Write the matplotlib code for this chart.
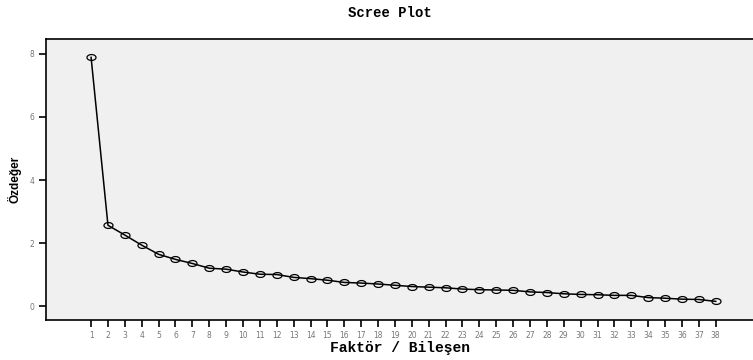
import matplotlib
matplotlib.use("Agg")
import matplotlib.pyplot as plt
from matplotlib.path import Path
from matplotlib.markers import MarkerStyle
import numpy as np

# veriler
faktorler = list(range(1, 39))
ozdegerler = [7.89, 2.57, 2.26, 1.94, 1.65, 1.49, 1.36, 1.21, 1.18, 1.09,
              1.02, 1.01, 0.92, 0.88, 0.83, 0.76, 0.74, 0.71, 0.67, 0.63,
              0.61, 0.59, 0.55, 0.53, 0.52, 0.51, 0.46, 0.44, 0.40, 0.38,
              0.37, 0.35, 0.35, 0.28, 0.26, 0.23, 0.22, 0.16]
y_ticks = [0, 2, 4, 6, 8]

# elips şeklinde marker
t = np.linspace(0, 2 * np.pi, 60)
elips = Path(np.column_stack([np.cos(t), 0.65 * np.sin(t)]))

fig = plt.figure(figsize=(7.53, 3.6), dpi=100)
ax = fig.add_axes([0.0611, 0.1111, 0.9389, 0.7797])
ax.set_facecolor("#f0f0f0")

ax.plot(faktorler, ozdegerler, color="black", lw=1.1,
        marker=MarkerStyle(elips), markersize=6.5,
        markerfacecolor="none", markeredgecolor="black", markeredgewidth=0.9)

ax.set_xlim(-1.67, 40.21)
ax.set_ylim(-0.43, 8.46)
ax.set_xticks(faktorler)
ax.set_xticklabels([str(f) for f in faktorler])
ax.set_yticks(y_ticks)

ax.spines["right"].set_visible(False)
for s in ["left", "bottom", "top"]:
    ax.spines[s].set_linewidth(1.2)

ax.tick_params(axis="both", direction="out", length=5, width=1.2,
               labelsize=5.5, colors="black")
ax.tick_params(axis="x", pad=3)
for lab in ax.get_xticklabels() + ax.get_yticklabels():
    lab.set_color("#777777")

fig.text(0.518, 0.963, "Scree Plot", ha="center", va="center",
         family="Liberation Mono", fontweight="bold", fontsize=10)
ax.set_xlabel("Faktör / Bileşen", family="Liberation Mono",
              fontweight="bold", fontsize=10.5, va="center")
ax.xaxis.set_label_coords(0.5, -0.1)
ax.set_ylabel("Özdeğer", family=["Liberation Sans Narrow", "Liberation Sans", "DejaVu Sans"],
              fontweight="bold", fontsize=8.5, va="center")
ax.yaxis.set_label_coords(-0.045, 0.5)

fig.savefig("out.png", dpi=100)
